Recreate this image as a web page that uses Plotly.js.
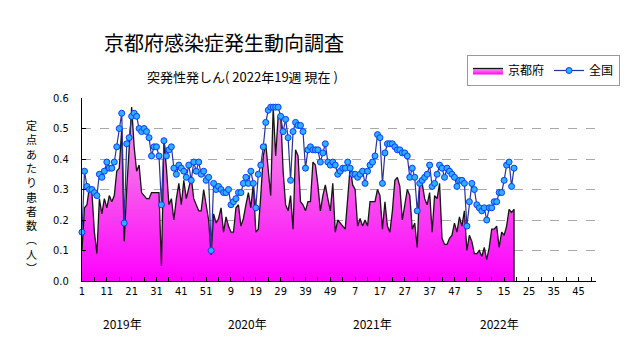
<!DOCTYPE html>
<html><head><meta charset="utf-8">
<script src="https://cdn.plot.ly/plotly-3.0.1.min.js"></script>
<style>html,body{margin:0;padding:0;background:#fff}#chart{width:631px;height:347px}</style>
</head><body><div id="chart"></div>
<script>
// 京都府 定点あたり患者数 (2019年第1週〜2022年第19週)
const kyoto = [
  0.10,0.24,0.25,0.31,0.29,0.16,0.09,0.27,0.22,0.27,
  0.24,0.28,0.26,0.28,0.36,0.37,0.50,0.13,0.30,0.45,
  0.57,0.44,0.36,0.38,0.29,0.28,0.27,0.27,0.29,0.29,
  0.29,0.29,0.05,0.46,0.37,0.25,0.27,0.20,0.27,0.32,
  0.25,0.33,0.27,0.31,0.34,0.27,0.25,0.23,0.23,0.30,
  0.25,0.20,0.085,0.22,0.19,0.205,0.24,0.16,0.21,0.18,
  0.16,0.16,0.24,0.25,0.18,0.205,0.25,0.29,0.24,0.32,
  0.16,0.17,0.28,0.41,0.45,0.36,0.28,0.57,0.41,0.54,
  0.55,0.36,0.25,0.23,0.28,0.17,0.43,0.41,0.26,0.25,
  0.23,0.26,0.26,0.39,0.38,0.315,0.23,0.28,0.315,0.27,
  0.23,0.32,0.16,0.20,0.19,0.18,0.17,0.27,0.375,0.315,
  0.30,0.18,0.205,0.18,0.20,0.18,0.26,0.26,0.26,0.30,
  0.28,0.17,0.26,0.18,0.16,0.23,0.33,0.34,0.31,0.20,
  0.25,0.30,0.28,0.17,0.19,0.11,0.315,0.32,0.27,0.25,
  0.29,0.16,0.28,0.27,0.32,0.14,0.12,0.12,0.14,0.15,
  0.19,0.16,0.21,0.18,0.23,0.10,0.15,0.13,0.09,0.09,
  0.10,0.08,0.11,0.07,0.11,0.17,0.17,0.18,0.11,0.16,
  0.15,0.18,0.235,0.225,0.235
];
// 全国 定点あたり患者数
const zenkoku = [
  0.16,0.36,0.31,0.30,0.30,0.29,0.28,0.35,0.34,0.36,
  0.39,0.37,0.37,0.39,0.44,0.50,0.55,0.19,0.45,0.47,
  0.54,0.55,0.54,0.50,0.49,0.50,0.49,0.47,0.41,0.44,
  0.44,0.41,0.25,0.46,0.41,0.43,0.44,0.37,0.35,0.38,
  0.37,0.36,0.34,0.38,0.33,0.39,0.36,0.39,0.35,0.36,
  0.33,0.34,0.10,0.32,0.30,0.31,0.30,0.29,0.29,0.30,
  0.25,0.26,0.27,0.29,0.29,0.32,0.34,0.32,0.36,0.32,
  0.24,0.35,0.38,0.44,0.52,0.56,0.57,0.57,0.57,0.57,
  0.54,0.49,0.53,0.47,0.33,0.49,0.52,0.51,0.51,0.49,
  0.37,0.43,0.44,0.43,0.43,0.43,0.39,0.42,0.45,0.39,
  0.38,0.39,0.38,0.35,0.36,0.37,0.37,0.39,0.37,0.35,
  0.35,0.34,0.35,0.36,0.32,0.36,0.38,0.39,0.41,0.48,
  0.47,0.32,0.42,0.45,0.45,0.45,0.44,0.43,0.43,0.42,
  0.42,0.41,0.34,0.37,0.34,0.23,0.32,0.33,0.34,0.35,
  0.38,0.31,0.32,0.35,0.38,0.37,0.34,0.37,0.36,0.35,
  0.34,0.31,0.33,0.33,0.32,0.18,0.26,0.32,0.30,0.25,
  0.24,0.23,0.24,0.20,0.24,0.24,0.26,0.26,0.29,0.29,
  0.33,0.38,0.39,0.31,0.37
];
const weekTickLabels = ["1","11","21","31","41","51","9","19","29","39","49","7","17","27","37","47","5","15","25","35","45"];
const yearLabels = ["2019年","2020年","2021年","2022年"];
const seriesNames = ["京都府","全国"];
const yTitleChars = ["定","点","あ","た","り","患","者","数","︵","人","︶"];
const slotsPerYear = 52;
const totalSlots = slotsPerYear * yearLabels.length;

const x = kyoto.map((_, i) => i + 1);
const xz = zenkoku.map((_, i) => i + 1);

const CJK = '"Noto Sans CJK JP", "Noto Sans", sans-serif';
const NUM = '"Liberation Sans Narrow", "Arial Narrow", "DejaVu Sans Condensed", sans-serif';

// plot area in px (for placing annotations)
const W = 631, H = 347, L = 82, R = 34, T = 98, B = 66;
const PW = W - L - R, PH = H - T - B;
const px2x = p => (p - L) / PW;
const px2y = p => (H - B - p) / PH;

const traces = [
  {
    x: x, y: kyoto, name: seriesNames[0], type: 'scatter', mode: 'lines',
    fill: 'tozeroy',
    fillgradient: {type: 'vertical', start: 0, stop: 0.6,
      colorscale: [[0, '#ff00ff'], [0.5, '#f955ee'], [1, '#f0a8e6']]},
    line: {color: '#151515', width: 1.3},
    hoverinfo: 'skip'
  },
  {
    x: xz, y: zenkoku, name: seriesNames[1], type: 'scatter', mode: 'lines+markers',
    line: {color: '#27339a', width: 1.2},
    marker: {symbol: 'circle', size: 6, color: '#2fb0ff', line: {color: '#0a3cff', width: 1}},
    cliponaxis: false,
    hoverinfo: 'skip'
  }
];

const majorTicks = weekTickLabels.map((_, k) => 1 + 10 * k);
const minorTicks = [];
for (let v = 1; v <= totalSlots; v += 5) minorTicks.push(v);

const annotations = [
  {text: '京都府感染症発生動向調査', xref: 'paper', yref: 'paper', x: px2x(224), y: px2y(42),
   xanchor: 'center', yanchor: 'middle', showarrow: false, font: {family: CJK, size: 20, color: '#000'}},
  {text: '突発性発しん( 2022年19週 現在 )', xref: 'paper', yref: 'paper', x: px2x(243), y: px2y(76),
   xanchor: 'center', yanchor: 'middle', showarrow: false, font: {family: CJK, size: 13, color: '#000'}},
  {text: yTitleChars.join('<br>'), xref: 'paper', yref: 'paper', x: px2x(31), y: px2y(196),
   xanchor: 'center', yanchor: 'middle', align: 'center', showarrow: false,
   font: {family: CJK, size: 11, color: '#000'}}
];
const yearPx = [123, 248, 373, 500];
yearLabels.forEach((t, k) => annotations.push({
  text: t, xref: 'paper', yref: 'paper', x: px2x(yearPx[k]), y: px2y(323),
  xanchor: 'center', yanchor: 'middle', showarrow: false, font: {family: CJK, size: 12, color: '#000'}
}));

const last = kyoto.length - 1;
const layout = {
  width: W, height: H,
  margin: {l: L, r: R, t: T, b: B, pad: 0},
  paper_bgcolor: '#fff', plot_bgcolor: '#fff',
  showlegend: true,
  legend: {orientation: 'h', x: px2x(467), y: px2y(55), xanchor: 'left', yanchor: 'top',
    bordercolor: '#9a9a9a', borderwidth: 1, bgcolor: '#fff',
    font: {family: CJK, size: 12, color: '#000'}, itemwidth: 30},
  xaxis: {
    range: [1, totalSlots], showgrid: false, zeroline: false,
    showline: true, linecolor: '#000', linewidth: 1,
    tickmode: 'array', tickvals: majorTicks, ticktext: weekTickLabels,
    ticks: 'inside', ticklen: 4, tickcolor: '#000',
    minor: {tickmode: 'array', tickvals: minorTicks, ticks: 'inside', ticklen: 4, tickcolor: '#000', showgrid: false},
    tickfont: {family: NUM, size: 11, color: '#000'}, fixedrange: true
  },
  yaxis: {
    range: [0, 0.6], dtick: 0.1, tick0: 0, tickformat: '.1f',
    showgrid: true, gridcolor: '#a9a9a9', griddash: 'dash', gridwidth: 1,
    zeroline: false, showline: true, linecolor: '#000', linewidth: 1,
    ticks: 'inside', ticklen: 4, tickcolor: '#000', ticklabelstandoff: 10,
    tickfont: {family: NUM, size: 11, color: '#000'}, fixedrange: true
  },
  shapes: [{type: 'line', xref: 'x', yref: 'y', x0: x[last], x1: x[last], y0: 0, y1: kyoto[last],
    line: {color: '#151515', width: 1.3}}],
  annotations: annotations
};

Plotly.newPlot('chart', traces, layout, {staticPlot: true, displayModeBar: false});
</script>
</body></html>
